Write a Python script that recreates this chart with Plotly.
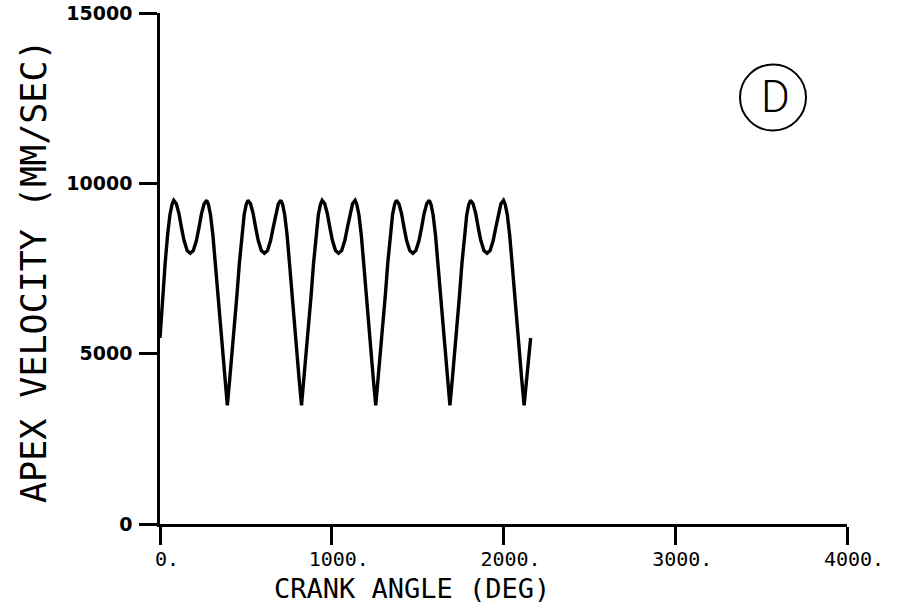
import plotly.graph_objects as go

# ---- data ----
cycle0_x = [0, 16, 30, 44, 58, 70, 80, 95, 110, 125, 140, 158, 176, 194, 212, 227, 242, 257, 272, 282, 294, 308, 322, 336, 350, 364, 378, 392]
cycle0_y = [5460, 6720, 7650, 8480, 9080, 9380, 9500, 9400, 9120, 8700, 8320, 8030, 7950, 8030, 8320, 8700, 9120, 9400, 9500, 9380, 9080, 8480, 7650, 6720, 5800, 5000, 4250, 3480]

cycle1_x = [406, 420, 434, 448, 462, 476, 490, 502, 512, 527, 542, 557, 572, 590, 608, 626, 644, 659, 674, 689, 704, 714, 726, 740, 754, 768, 782, 796, 810, 824]
cycle2_x = [838, 852, 866, 880, 894, 908, 922, 934, 944, 959, 974, 989, 1004, 1022, 1040, 1058, 1076, 1091, 1106, 1121, 1136, 1146, 1158, 1172, 1186, 1200, 1214, 1228, 1242, 1256]
cycle3_x = [1270, 1284, 1298, 1312, 1326, 1340, 1354, 1366, 1376, 1391, 1406, 1421, 1436, 1454, 1472, 1490, 1508, 1523, 1538, 1553, 1568, 1578, 1590, 1604, 1618, 1632, 1646, 1660, 1674, 1688]
cycle4_x = [1702, 1716, 1730, 1744, 1758, 1772, 1786, 1798, 1808, 1823, 1838, 1853, 1868, 1886, 1904, 1922, 1940, 1955, 1970, 1985, 2000, 2010, 2022, 2036, 2050, 2064, 2078, 2092, 2106, 2120]

cycle1_y = [4250, 5000, 5800, 6720, 7650, 8480, 9080, 9380, 9500, 9400, 9120, 8700, 8320, 8030, 7950, 8030, 8320, 8700, 9120, 9400, 9500, 9380, 9080, 8480, 7650, 6720, 5800, 5000, 4250, 3480]
cycle2_y = [4250, 5000, 5800, 6720, 7650, 8480, 9080, 9380, 9500, 9400, 9120, 8700, 8320, 8030, 7950, 8030, 8320, 8700, 9120, 9400, 9500, 9380, 9080, 8480, 7650, 6720, 5800, 5000, 4250, 3480]
cycle3_y = [4250, 5000, 5800, 6720, 7650, 8480, 9080, 9380, 9500, 9400, 9120, 8700, 8320, 8030, 7950, 8030, 8320, 8700, 9120, 9400, 9500, 9380, 9080, 8480, 7650, 6720, 5800, 5000, 4250, 3480]
cycle4_y = [4250, 5000, 5800, 6720, 7650, 8480, 9080, 9380, 9500, 9400, 9120, 8700, 8320, 8030, 7950, 8030, 8320, 8700, 9120, 9400, 9500, 9380, 9080, 8480, 7650, 6720, 5800, 5000, 4250, 3480]

tail_x = [2134, 2148, 2158]
tail_y = [4250, 5000, 5460]

crank_angle = cycle0_x + cycle1_x + cycle2_x + cycle3_x + cycle4_x + tail_x
apex_velocity = cycle0_y + cycle1_y + cycle2_y + cycle3_y + cycle4_y + tail_y

x_ticks = [0, 1000, 2000, 3000, 4000]
x_tick_labels = ["0.", "1000.", "2000.", "3000.", "4000."]
y_ticks = [0, 5000, 10000, 15000]
y_tick_labels = ["0", "5000", "10000", "15000"]

x_title = "CRANK ANGLE (DEG)"
y_title = "APEX VELOCITY (MM/SEC)"
panel_label = "D"

# ---- figure ----
fig = go.Figure()
fig.add_trace(go.Scatter(
    x=crank_angle, y=apex_velocity, mode="lines",
    line=dict(color="black", width=3.4), showlegend=False, hoverinfo="skip"))

W, H = 899, 604
ml, mr, mt, mb = 160, 52, 13, 80
pw, ph = W - ml - mr, H - mt - mb

def px_to_paper(px, py):
    return (px - ml) / pw, (H - mb - py) / ph

fig.update_layout(
    width=W, height=H,
    margin=dict(l=ml, r=mr, t=mt, b=mb, autoexpand=False),
    paper_bgcolor="white", plot_bgcolor="white",
    xaxis=dict(range=[0, 4000], tickvals=x_ticks, ticktext=x_tick_labels,
               showgrid=False, zeroline=False, showline=True, automargin=False,
               linecolor="black", linewidth=2.5,
               ticks="outside", ticklen=18, tickwidth=2.5, tickcolor="black",
               tickfont=dict(family="DejaVu Sans Mono", size=20, color="black"),
               ticklabelstandoff=-3, ticklabelshift=7),
    yaxis=dict(range=[0, 15000], tickvals=y_ticks, ticktext=y_tick_labels,
               showgrid=False, zeroline=False, showline=True, automargin=False,
               linecolor="black", linewidth=2.5,
               ticks="outside", ticklen=18, tickwidth=2.5, tickcolor="black",
               tickfont=dict(family="DejaVu Sans", size=19, color="black", weight="bold"),
               ticklabelstandoff=3),
)

# axis titles as annotations placed like the reference
tx, ty = px_to_paper(412, 588)
fig.add_annotation(x=tx, y=ty, xref="paper", yref="paper", text=x_title,
                   showarrow=False, xanchor="center", yanchor="middle",
                   font=dict(family="DejaVu Sans Mono", size=27, color="black"))
yx, yy = px_to_paper(34, 271)
fig.add_annotation(x=yx, y=yy, xref="paper", yref="paper", text=y_title,
                   showarrow=False, xanchor="center", yanchor="middle", textangle=-90,
                   font=dict(family="DejaVu Sans Mono", size=35, color="black"))

# circled panel label
cx0, cy0 = px_to_paper(740, 130.5)
cx1, cy1 = px_to_paper(806, 64.5)
fig.add_shape(type="circle", xref="paper", yref="paper",
              x0=cx0, y0=cy0, x1=cx1, y1=cy1, line=dict(color="black", width=2))
lx, ly = px_to_paper(775, 97)
fig.add_annotation(x=lx, y=ly, xref="paper", yref="paper", text=panel_label,
                   showarrow=False, xanchor="center", yanchor="middle",
                   font=dict(family="Roboto", size=44, color="black", weight=300))

fig.write_html("out.html", config={"displayModeBar": False},
               post_script="document.body.style.margin='0';")
